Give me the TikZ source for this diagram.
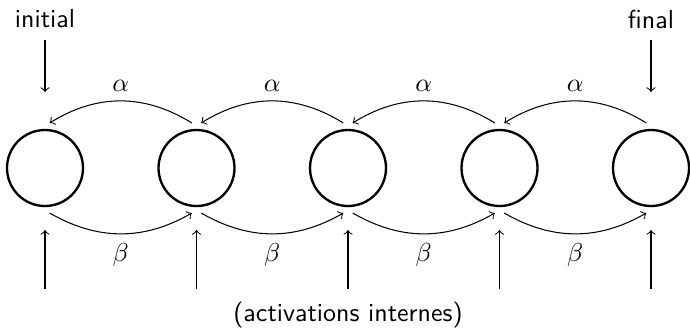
\documentclass[tikz,border=0pt]{standalone}
\usetikzlibrary{arrows}
\begin{document}
\begin{tikzpicture}[x=0.385pt,y=-0.385pt,
  state/.style={circle,draw,line width=0.9pt,minimum size=76*0.385pt,inner sep=0pt,outer sep=2.8pt},
  link/.style={->,>=to,line width=0.4pt},
  lbl/.style={font=\sffamily}]
\useasboundingbox (0,0) rectangle (690,334);
% states
\foreach \i/\x in {1/45,2/196.5,3/348,4/499.5,5/651}
  \node[state] (n\i) at (\x,168) {};
% forward (beta) and backward (alpha) transitions
\foreach \i/\j in {1/2,2/3,3/4,4/5}{
  \draw[link] (n\j.96) to[bend right=32] node[above] {$\alpha$} (n\i.84);
  \draw[link] (n\i.-84) to[bend right=30] node[below] {$\beta$} (n\j.-96);
}
% boundary inputs
\node[lbl] (init) at (45,19) {initial};
\node[lbl] (fin) at (651,19) {final};
\coordinate (i0) at (45,40);  \coordinate (i1) at (45,92);
\coordinate (f0) at (651,40); \coordinate (f1) at (651,92);
\draw[link] (i0) -- (i1);
\draw[link] (f0) -- (f1);
% internal activations
\foreach \i/\x in {1/45,2/196.5,3/348,4/499.5,5/651}{
  \coordinate (b\i) at (\x,289);
  \coordinate (t\i) at (\x,230);
  \draw[link] (b\i) -- (t\i);
}
\node[lbl] (act) at (348,315) {(activations internes)};
\end{tikzpicture}
\end{document}
